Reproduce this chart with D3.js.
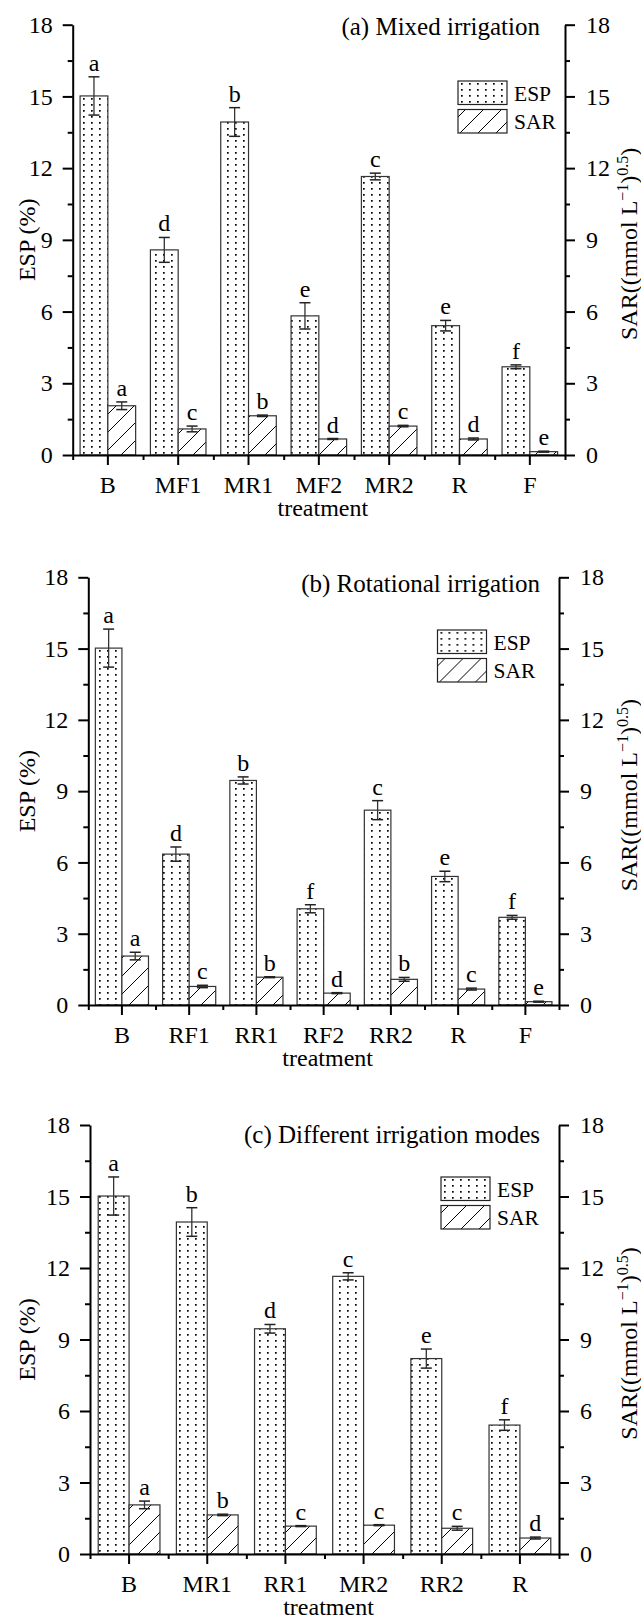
<!DOCTYPE html>
<html>
<head>
<meta charset="utf-8">
<script src="https://cdn.jsdelivr.net/npm/d3@7"></script>
<style>
  body { margin: 0; background: #fff; }
  svg { display: block; font-family: "Liberation Serif", "Times New Roman", serif; }
</style>
</head>
<body>
<svg width="641" height="1620"></svg>
<script>
// (a) Mixed irrigation
const catsA = ["B", "MF1", "MR1", "MF2", "MR2", "R", "F"];
const espA = [15.02, 8.58, 13.93, 5.82, 11.65, 5.41, 3.69];
const espErrA = [0.80, 0.52, 0.60, 0.55, 0.14, 0.22, 0.08];
const sarA = [2.06, 1.09, 1.64, 0.67, 1.21, 0.67, 0.14];
const sarErrA = [0.16, 0.12, 0.03, 0.02, 0.03, 0.04, 0.02];
const espLetA = ["a", "d", "b", "e", "c", "e", "f"];
const sarLetA = ["a", "c", "b", "d", "c", "d", "e"];

// (b) Rotational irrigation
const catsB = ["B", "RF1", "RR1", "RF2", "RR2", "R", "F"];
const espB = [15.02, 6.35, 9.45, 4.05, 8.2, 5.41, 3.69];
const espErrB = [0.80, 0.30, 0.15, 0.17, 0.40, 0.22, 0.08];
const sarB = [2.06, 0.78, 1.17, 0.5, 1.08, 0.67, 0.14];
const sarErrB = [0.16, 0.05, 0.02, 0.02, 0.08, 0.04, 0.02];
const espLetB = ["a", "d", "b", "f", "c", "e", "f"];
const sarLetB = ["a", "c", "b", "d", "b", "c", "e"];

// (c) Different irrigation modes
const catsC = ["B", "MR1", "RR1", "MR2", "RR2", "R"];
const espC = [15.02, 13.93, 9.45, 11.65, 8.2, 5.41];
const espErrC = [0.80, 0.60, 0.18, 0.15, 0.40, 0.22];
const sarC = [2.06, 1.64, 1.17, 1.21, 1.08, 0.67];
const sarErrC = [0.16, 0.03, 0.02, 0.02, 0.08, 0.04];
const espLetC = ["a", "b", "d", "c", "e", "f"];
const sarLetC = ["a", "b", "c", "c", "c", "d"];

const yMajor = [0, 3, 6, 9, 12, 15, 18];
const yMinor = [1.5, 4.5, 7.5, 10.5, 13.5, 16.5];

const FONT = '"Liberation Serif", "Times New Roman", serif';
const svg = d3.select("svg");

// fill patterns
const defs = svg.append("defs");
const dots = defs.append("pattern")
  .attr("id", "dots")
  .attr("patternUnits", "userSpaceOnUse")
  .attr("width", 8).attr("height", 6);
dots.append("rect").attr("width", 8).attr("height", 6).attr("fill", "#fff");
dots.append("rect").attr("x", 3).attr("y", 2).attr("width", 1.7).attr("height", 1.7).attr("fill", "#000");

const hatch = defs.append("pattern")
  .attr("id", "hatch")
  .attr("patternUnits", "userSpaceOnUse")
  .attr("width", 18).attr("height", 18);
hatch.append("rect").attr("width", 18).attr("height", 18).attr("fill", "#fff");
hatch.append("path")
  .attr("d", "M0,18 L18,0 M-4,4 L4,-4 M14,22 L22,14")
  .attr("stroke", "#000").attr("stroke-width", 1);

function styleAxis(g, size) {
  g.selectAll("text").attr("font-family", FONT).attr("font-size", size).attr("fill", "#000");
  g.selectAll("line").attr("stroke", "#000").attr("stroke-width", 2);
  g.select(".domain").attr("stroke", "#000").attr("stroke-width", 2);
}

function drawPanel(p) {
  const g = svg.append("g");
  const x = d3.scaleBand().domain(p.cats).range([p.left, p.right]);
  const xEdge = d3.scaleLinear().domain([0, p.cats.length]).range([p.left, p.right]);
  const y = d3.scaleLinear().domain([0, 18]).range([p.bottom, p.top]);
  const bw = x.bandwidth() * 0.395;
  const mid = c => x(c) + x.bandwidth() / 2;

  const rows = p.cats.map((c, i) => ({
    cat: c,
    esp: p.esp[i], espErr: p.espErr[i], espLet: p.espLet[i],
    sar: p.sar[i], sarErr: p.sarErr[i], sarLet: p.sarLet[i]
  }));

  // bars
  g.selectAll(".esp").data(rows).enter().append("rect")
    .attr("class", "esp")
    .attr("x", d => mid(d.cat) - bw)
    .attr("y", d => y(d.esp))
    .attr("width", bw)
    .attr("height", d => y(0) - y(d.esp))
    .attr("fill", "url(#dots)")
    .attr("stroke", "#333").attr("stroke-width", 1.2);

  g.selectAll(".sar").data(rows).enter().append("rect")
    .attr("class", "sar")
    .attr("x", d => mid(d.cat))
    .attr("y", d => y(d.sar))
    .attr("width", bw)
    .attr("height", d => y(0) - y(d.sar))
    .attr("fill", "url(#hatch)")
    .attr("stroke", "#333").attr("stroke-width", 1.2);

  // error bars + letters
  const series = [
    { val: "esp", err: "espErr", let: "espLet", off: -bw / 2 },
    { val: "sar", err: "sarErr", let: "sarLet", off: bw / 2 }
  ];
  series.forEach(s => {
    const eg = g.append("g");
    rows.forEach(d => {
      const cx = mid(d.cat) + s.off;
      const hi = y(d[s.val] + d[s.err]);
      const lo = y(d[s.val] - d[s.err]);
      eg.append("line").attr("x1", cx).attr("x2", cx).attr("y1", hi).attr("y2", lo)
        .attr("stroke", "#333").attr("stroke-width", 1.3);
      [hi, lo].forEach(yy => {
        eg.append("line").attr("x1", cx - 5.5).attr("x2", cx + 5.5).attr("y1", yy).attr("y2", yy)
          .attr("stroke", "#222").attr("stroke-width", 1.5);
      });
      eg.append("text")
        .attr("x", cx).attr("y", hi - 6)
        .attr("text-anchor", "middle")
        .attr("font-family", FONT).attr("font-size", 24)
        .text(d[s.let]);
    });
  });

  // axes
  const left = g.append("g").attr("transform", `translate(${p.left},0)`)
    .call(d3.axisLeft(y).tickValues(yMajor).tickSize(10).tickSizeOuter(0).tickPadding(10));
  styleAxis(left, 24);
  const leftMinor = g.append("g").attr("transform", `translate(${p.left},0)`)
    .call(d3.axisLeft(y).tickValues(yMinor).tickSize(5).tickFormat(""));
  leftMinor.select(".domain").remove();
  styleAxis(leftMinor, 24);

  const right = g.append("g").attr("transform", `translate(${p.right},0)`)
    .call(d3.axisRight(y).tickValues(yMajor).tickSize(10).tickSizeOuter(0).tickPadding(11));
  styleAxis(right, 24);
  const rightMinor = g.append("g").attr("transform", `translate(${p.right},0)`)
    .call(d3.axisRight(y).tickValues(yMinor).tickSize(5).tickFormat(""));
  rightMinor.select(".domain").remove();
  styleAxis(rightMinor, 24);

  const bottom = g.append("g").attr("transform", `translate(0,${p.bottom})`)
    .call(d3.axisBottom(x).tickSize(10).tickSizeOuter(0).tickPadding(11));
  styleAxis(bottom, 24);
  const bottomMinor = g.append("g").attr("transform", `translate(0,${p.bottom})`)
    .call(d3.axisBottom(xEdge).tickValues(d3.range(p.cats.length + 1)).tickSize(5).tickFormat(""));
  bottomMinor.select(".domain").remove();
  styleAxis(bottomMinor, 24);

  // axis titles
  const yMid = (p.top + p.bottom) / 2;
  g.append("text")
    .attr("transform", `translate(35,${yMid}) rotate(-90)`)
    .attr("text-anchor", "middle")
    .attr("font-family", FONT).attr("font-size", 24)
    .text("ESP (%)");

  const rl = g.append("text")
    .attr("transform", `translate(637,${yMid + 4}) rotate(-90)`)
    .attr("text-anchor", "middle")
    .attr("font-family", FONT).attr("font-size", 24);
  rl.append("tspan").text("SAR((mmol L");
  rl.append("tspan").attr("font-size", 16).attr("dy", -9).text("\u22121");
  rl.append("tspan").attr("dy", 9).text(")");
  rl.append("tspan").attr("font-size", 16).attr("dy", -9).text("0.5");
  rl.append("tspan").attr("dy", 9).text(")");

  g.append("text")
    .attr("x", (p.left + p.right) / 2 + 4).attr("y", p.bottom + 61)
    .attr("text-anchor", "middle")
    .attr("font-family", FONT).attr("font-size", 24)
    .text("treatment");

  // panel title
  g.append("text")
    .attr("x", 540).attr("y", p.titleY)
    .attr("text-anchor", "end")
    .attr("font-family", FONT).attr("font-size", 25)
    .text(p.title);

  // legend
  const lg = g.append("g").attr("transform", `translate(${p.legX},${p.legY})`);
  [["ESP", "url(#dots)"], ["SAR", "url(#hatch)"]].forEach((item, i) => {
    lg.append("rect")
      .attr("x", 0).attr("y", i * 28.5)
      .attr("width", 49).attr("height", 23.5)
      .attr("fill", item[1])
      .attr("stroke", "#222").attr("stroke-width", 1.2);
    lg.append("text")
      .attr("x", 56).attr("y", i * 28.5 + 19.5)
      .attr("font-family", FONT).attr("font-size", 21.5)
      .text(item[0]);
  });
}

drawPanel({
  cats: catsA, esp: espA, espErr: espErrA, sar: sarA, sarErr: sarErrA,
  espLet: espLetA, sarLet: sarLetA,
  left: 72.7, right: 565, top: 24.7, bottom: 455,
  title: "(a) Mixed irrigation", titleY: 35, legX: 458, legY: 81
});
drawPanel({
  cats: catsB, esp: espB, espErr: espErrB, sar: sarB, sarErr: sarErrB,
  espLet: espLetB, sarLet: sarLetB,
  left: 88.3, right: 559, top: 577.3, bottom: 1005,
  title: "(b) Rotational irrigation", titleY: 591.7, legX: 437.5, legY: 630
});
drawPanel({
  cats: catsC, esp: espC, espErr: espErrC, sar: sarC, sarErr: sarErrC,
  espLet: espLetC, sarLet: sarLetC,
  left: 90, right: 559, top: 1125, bottom: 1554,
  title: "(c) Different irrigation modes", titleY: 1143, legX: 441, legY: 1177
});
</script>
</body>
</html>
